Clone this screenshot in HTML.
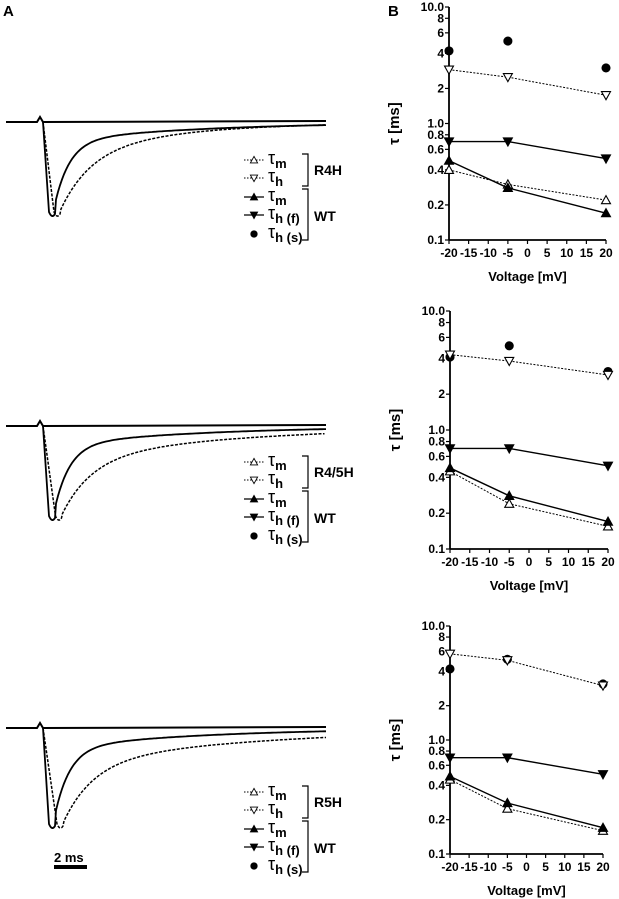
<!DOCTYPE html>
<html><head><meta charset="utf-8"><style>
body{margin:0;background:#fff;}
svg{display:block;font-family:"Liberation Sans",sans-serif;}
</style></head><body>
<svg id="fig" width="619" height="899" viewBox="0 0 619 899">
<text x="3" y="16" font-size="15" font-weight="bold">A</text>
<text x="388" y="16" font-size="15" font-weight="bold">B</text>
<g id="traces"></g>
<g id="charts"></g>
<g>
<text x="54" y="862" font-size="13" font-weight="bold">2 ms</text>
<rect x="54" y="865" width="33" height="4" fill="#000"/>
</g>
</svg>
<script>
const NS='http://www.w3.org/2000/svg';
const voltages=[-20,-5,20];
const xTicks=[-20,-15,-10,-5,0,5,10,15,20];
const yTicks=[0.1,0.2,0.4,0.6,0.8,1.0,2,4,6,8,10.0];
const yTickLabels=['0.1','0.2','0.4','0.6','0.8','1.0','2','4','6','8','10.0'];
const mutantNames=['R4H','R4/5H','R5H'];
// panel 1 (R4H)
const p1_mutTm=[0.4,0.3,0.22];
const p1_mutTh=[2.9,2.5,1.75];
const p1_wtTm=[0.48,0.28,0.17];
const p1_wtThf=[0.7,0.7,0.5];
const p1_wtThs=[4.2,5.1,3.0];
// panel 2 (R4/5H)
const p2_mutTm=[0.45,0.24,0.155];
const p2_mutTh=[4.3,3.8,2.9];
const p2_wtTm=[0.48,0.28,0.17];
const p2_wtThf=[0.7,0.7,0.5];
const p2_wtThs=[4.1,5.1,3.1];
// panel 3 (R5H)
const p3_mutTm=[0.45,0.25,0.16];
const p3_mutTh=[5.7,5.0,3.0];
const p3_wtTm=[0.48,0.28,0.17];
const p3_wtThf=[0.7,0.7,0.5];
const p3_wtThs=[4.2,5.1,3.1];
const panels=[
 {mt:p1_mutTm,mh:p1_mutTh,wm:p1_wtTm,wf:p1_wtThf,ws:p1_wtThs,x0:449,x1:606,yT:7,yB:240,base:122,dip:218,legY:160,mutT2:110},
 {mt:p2_mutTm,mh:p2_mutTh,wm:p2_wtTm,wf:p2_wtThf,ws:p2_wtThs,x0:450,x1:608,yT:311,yB:549,base:426,dip:522,legY:462,mutT2:180},
 {mt:p3_mutTm,mh:p3_mutTh,wm:p3_wtTm,wf:p3_wtThf,ws:p3_wtThs,x0:450,x1:603,yT:626,yB:854,base:728,dip:830,legY:792,mutT2:200}
];
function el(tag,attrs,parent){const e=document.createElementNS(NS,tag);for(const k in attrs)e.setAttribute(k,attrs[k]);parent.appendChild(e);return e;}
function marker(g,type,x,y){
 const s=4.5;let e;
 if(type==='up'||type==='upo'){e=el('path',{d:`M${x} ${y-s}L${x+s} ${y+s*0.8}L${x-s} ${y+s*0.8}Z`},g);}
 else if(type==='down'||type==='downo'){e=el('path',{d:`M${x} ${y+s}L${x+s} ${y-s*0.8}L${x-s} ${y-s*0.8}Z`},g);}
 else {e=el('circle',{cx:x,cy:y,r:4},g);}
 const open=type.endsWith('o');
 e.setAttribute('fill',open?'#fff':'#000');e.setAttribute('stroke','#000');e.setAttribute('stroke-width','1.1');
 return e;
}
const charts=document.getElementById('charts');
const traces=document.getElementById('traces');
panels.forEach((p,pi)=>{
 const g=el('g',{},charts);
 
 
 const xs=v=>p.x0+(v+20)/40*(p.x1-p.x0);
 const ys=t=>p.yB-(Math.log10(t)+1)/2*(p.yB-p.yT);
 const ya=el('line',{x1:p.x0,y1:p.yT,x2:p.x0,y2:p.yB,stroke:'#000','stroke-width':1.8},g);
 
 const xa=el('line',{x1:p.x0,y1:p.yB,x2:p.x1,y2:p.yB,stroke:'#000','stroke-width':1.8},g);
 
 yTicks.forEach((t,i)=>{
  el('line',{x1:p.x0-4,y1:ys(t),x2:p.x0,y2:ys(t),stroke:'#000','stroke-width':1.2},g);
  const tx=el('text',{x:p.x0-5,y:ys(t)+4,'font-size':12,'font-weight':'bold','text-anchor':'end'},g);
  tx.textContent=yTickLabels[i];
  
 });
 xTicks.forEach(v=>{
  el('line',{x1:xs(v),y1:p.yB,x2:xs(v),y2:p.yB+4,stroke:'#000','stroke-width':1.2},g);
  const tx=el('text',{x:xs(v),y:p.yB+17,'font-size':12,'font-weight':'bold','text-anchor':'middle'},g);
  tx.textContent=String(v);
  
 });
 const xt=el('text',{x:(p.x0+p.x1)/2,y:p.yB+41,'font-size':13,'font-weight':'bold','text-anchor':'middle'},g);
 xt.textContent='Voltage [mV]';
 
 const yc=(p.yT+p.yB)/2;
 const yt=el('text',{x:0,y:0,'font-size':15,'font-weight':'bold','text-anchor':'middle',transform:`translate(${p.x0-50},${yc}) rotate(-90)`},g);
 yt.textContent='τ [ms]';
 
 const series=[[p.ws,'dot',null,'wt-tau-h-slow'],[p.mh,'downo',true,'mutant-tau-h'],[p.mt,'upo',true,'mutant-tau-m'],[p.wf,'down',false,'wt-tau-h-fast'],[p.wm,'up',false,'wt-tau-m']];
 series.forEach(([vals,type,dotted,name])=>{
  const sg=el('g',{},g);
  
  if(dotted!==null){
   const d=vals.map((v,i)=>(i?'L':'M')+xs(voltages[i])+' '+ys(v)).join('');
   el('path',{d:d,fill:'none',stroke:'#000','stroke-width':dotted?1:1.4,'stroke-dasharray':dotted?'2,1.5':''},sg);
  }
  vals.forEach((v,i)=>{const m=marker(sg,type,xs(voltages[i]),ys(v));
   });
 });
 const tg=el('g',{fill:'none',stroke:'#000'},traces);
 
 const A=p.dip-p.base;
 el('path',{d:`M6 ${p.base}L37 ${p.base}L40 ${p.base-5}L43 ${p.base}L326 ${p.base-1}`,'stroke-width':2},tg);
 function curve(xd,w,t1,t2,xend){
  let d=`M43 ${p.base}L${xd-3} ${p.dip-6}Q${xd} ${p.dip+1} ${xd+3} ${p.dip-4}`;
  for(let x=xd+4;x<=xend;x+=2){const t=x-xd;d+=`L${x} ${(p.base+A*(w*Math.exp(-t/t1)+(1-w)*Math.exp(-t/t2))).toFixed(1)}`;}
  return d;
 }
 el('path',{d:curve(52,0.8,15,150,326),'stroke-width':1.8},tg);
 el('path',{d:curve(57+pi*1.5,0.65,30,p.mutT2,326),'stroke-width':1.5,'stroke-dasharray':'3,1.5'},tg);
 const lg=el('g',{},traces);
 
 const rows=[['upo',true,'m',''],['downo',true,'h',''],['up',false,'m',''],['down',false,'h','(f)'],['dot',null,'h','(s)']];
 const step=[0,18,37,55,74];
 rows.forEach((r,i)=>{
  const y=p.legY+step[i];
  const eg=el('g',{},lg);
  
  if(r[1]!==null) el('line',{x1:244,y1:y,x2:264,y2:y,stroke:'#000','stroke-width':r[1]?1:1.3,'stroke-dasharray':r[1]?'1.5,1.5':''},eg);
  marker(eg,r[0],254,y).setAttribute('transform',`translate(254 ${y}) scale(0.8) translate(-254 ${-y})`);
  const t=el('text',{x:268,y:y+4,'font-size':18},eg);
  t.innerHTML=`τ<tspan font-size="13" font-weight="bold" dy="4">${r[2]}${r[3]?' '+r[3]:''}</tspan>`;
 });
 el('path',{d:`M302 ${p.legY-6}H308V${p.legY+26}H302`,fill:'none',stroke:'#000','stroke-width':1.2},lg);
 el('path',{d:`M302 ${p.legY+29}H308V${p.legY+80}H302`,fill:'none',stroke:'#000','stroke-width':1.2},lg);
 const mn=el('text',{x:314,y:p.legY+15,'font-size':14,'font-weight':'bold'},lg);
 mn.textContent=mutantNames[pi];
 
 const wn=el('text',{x:314,y:p.legY+61,'font-size':14,'font-weight':'bold'},lg);
 wn.textContent='WT';
 
});
</script>
</body></html>
